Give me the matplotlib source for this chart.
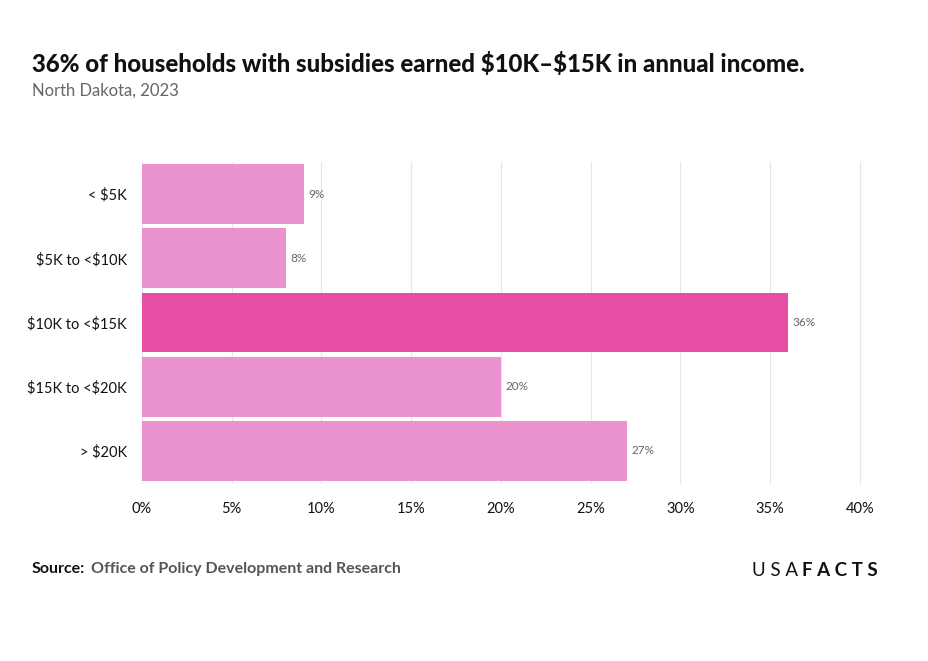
import matplotlib.pyplot as plt

categories = ["< $5K", "$5K to <$10K", "$10K to <$15K", "$15K to <$20K", "> $20K"]
shares = [9, 8, 36, 20, 27]
highlight = "$10K to <$15K"
x_ticks = [0, 5, 10, 15, 20, 25, 30, 35, 40]

LIGHT = "#eb93cf"
DARK = "#e84ea6"
GRID = "#e6e6e6"
TEXT = "#111111"
GREY = "#666666"

plt.rcParams["font.family"] = ["Lato", "DejaVu Sans"]
plt.rcParams["text.parse_math"] = False

fig = plt.figure(figsize=(9.29, 6.61), dpi=100)
W, H = 929, 661
ax = fig.add_axes([142 / W, 1 - 483 / H, (860 - 142) / W, (483 - 162) / H])

ypos = list(range(len(categories)))
colors = [DARK if c == highlight else LIGHT for c in categories]
ax.barh(ypos, shares, height=0.93, color=colors, zorder=2)
for y, v in zip(ypos, shares):
    ax.text(v + 0.25, y, f"{v}%", va="center", ha="left", fontsize=8.5, color=GREY)

ax.set_ylim(len(categories) - 0.5, -0.5)
ax.set_xlim(0, 40)
ax.set_yticks(ypos)
ax.set_yticklabels(categories, fontsize=10.5, color=TEXT)
ax.set_xticks(x_ticks)
ax.set_xticklabels([f"{t}%" for t in x_ticks], fontsize=10.5, color=TEXT)
ax.tick_params(length=0, pad=14)
ax.tick_params(axis="y", pad=11)
ax.grid(axis="x", color=GRID, linewidth=0.8, zorder=0, clip_on=False)
for s in ax.spines.values():
    s.set_visible(False)

fig.text(32 / W, 1 - 64 / H, "36% of households with subsidies earned $10K\u2013$15K in annual income.",
         fontsize=17.3, fontweight="black", color=TEXT, va="center")
fig.text(32 / W, 1 - 91 / H, "North Dakota, 2023", fontsize=12, color=GREY, va="center")

fig.text(32 / W, 1 - 569 / H, "Source:", fontsize=11.5, fontweight="bold", color=TEXT, va="center")
fig.text(91 / W, 1 - 569 / H, "Office of Policy Development and Research", fontsize=11.5,
         fontweight="bold", color="#555555", va="center")
fig.text(798 / W, 1 - 570 / H, "U S A", fontsize=13.5, color=TEXT, va="center", ha="right")
fig.text(802 / W, 1 - 570 / H, "F A C T S", fontsize=13.5, fontweight="bold", color=TEXT,
         va="center", ha="left")

fig.savefig("out.png", dpi=100, facecolor="white")
